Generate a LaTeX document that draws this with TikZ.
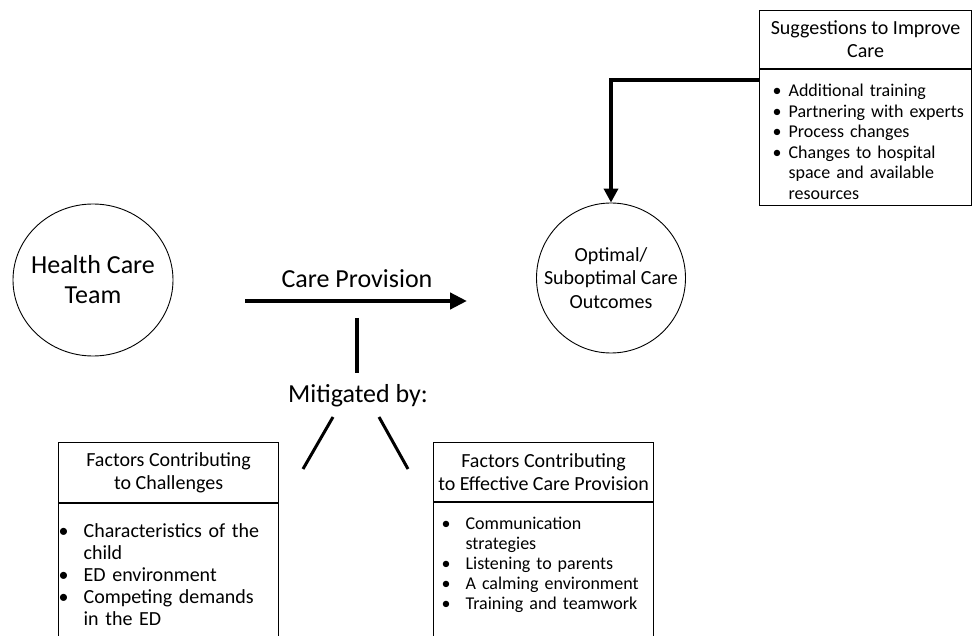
\documentclass[tikz,border=0pt]{standalone}
\usepackage{fontspec}
\setmainfont{Carlito}
\usepackage{enumitem}
\usetikzlibrary{arrows.meta, positioning, shapes.geometric}

\setlist[itemize]{label=\textbullet, topsep=0pt, itemsep=0pt, parsep=0pt, partopsep=0pt}

\begin{document}
\begin{tikzpicture}[x=1pt, y=-1pt, >=Stealth,
    blob/.style={ellipse, draw, line width=0.9pt, align=center, inner sep=-20pt},
    headbox/.style={draw, line width=1.2pt, align=center, inner sep=0pt,
        font=\fontsize{20}{23}\selectfont},
    listbox/.style={draw, line width=1.2pt, align=left, inner ysep=0pt},
    bigtext/.style={font=\fontsize{26}{30}\selectfont},
    fatarrow/.style={line width=4.5pt, -{Triangle[length=17pt, width=16pt]}},
    elbow/.style={line width=4pt, -{Triangle[length=14pt, width=14pt]}},
    stem/.style={line width=3.5pt},
    leg/.style={line width=3pt}]
    \useasboundingbox (0,0) rectangle (972,636);

    % the two circles
    \node (team) [blob, bigtext, minimum width=160pt, minimum height=152pt] at (93,280)
        {Health Care\\Team};
    \node (outcome) [blob, font=\fontsize{20}{23.5}\selectfont, minimum width=149pt,
        minimum height=150pt] at (611,278) {Optimal/\\Suboptimal Care\\Outcomes};

    % care provision arrow
    \coordinate (cpstart) at (245,301);
    \coordinate (cpend) at (467,301);
    \node (provision) [bigtext] at (357,279) {Care Provision};
    \draw [fatarrow] (cpstart) -- (cpend);

    % mitigation
    \coordinate (stemtop) at (357,318);
    \coordinate (stembot) at (357,373);
    \draw [stem] (stemtop) -- (stembot);
    \node (mitig) [bigtext] at (358,396) {Mitigated by:};
    \coordinate (lefttop) at (333,417);
    \coordinate (leftbot) at (303,469);
    \coordinate (righttop) at (379,417);
    \coordinate (rightbot) at (408,469);
    \draw [leg] (lefttop) -- (leftbot);
    \draw [leg] (righttop) -- (rightbot);

    % suggestions box
    \node (shead) [headbox, anchor=north west, minimum width=212pt, minimum height=58pt] at (759,10)
        {Suggestions to Improve\\Care};
    \node (sbody) [listbox, below=0pt of shead, text width=204pt, inner xsep=4pt,
        minimum height=136pt, font=\fontsize{18}{20.5}\selectfont] {\raggedright
        \begin{itemize}[leftmargin=25pt, labelsep=7pt]
        \item Additional training
        \item Partnering with experts
        \item Process changes
        \item Changes to hospital\\space and available\\resources
        \end{itemize}};

    % challenges box
    \node (chead) [headbox, anchor=north west, minimum width=220pt, minimum height=60pt] at (58,442)
        {Factors Contributing\\to Challenges};
    \node (cbody) [listbox, below=0pt of chead, text width=216pt, inner xsep=2pt,
        minimum height=133pt, font=\fontsize{20}{22}\selectfont] {\raggedright
        \begin{itemize}[leftmargin=23pt, labelsep=15pt]
        \item Characteristics of the\\child
        \item ED environment
        \item Competing demands\\in the ED
        \end{itemize}};

    % effective care box
    \node (ebody) [listbox, anchor=north west, text width=208pt, inner xsep=6pt,
        minimum height=134pt, font=\fontsize{18}{20}\selectfont] at (433,502) {\raggedright
        \begin{itemize}[leftmargin=26pt, labelsep=15pt]
        \item Communication\\strategies
        \item Listening to parents
        \item A calming environment
        \item Training and teamwork
        \end{itemize}\par\mbox{}};
    \node (ehead) [headbox, above=0pt of ebody, minimum width=220pt, minimum height=59pt]
        {Factors Contributing\\to Effective Care Provision};

    % suggestions feed back into outcomes
    \coordinate (hook) at (759,80);
    \draw [elbow] (hook) -| (outcome.north);
\end{tikzpicture}
\end{document}
